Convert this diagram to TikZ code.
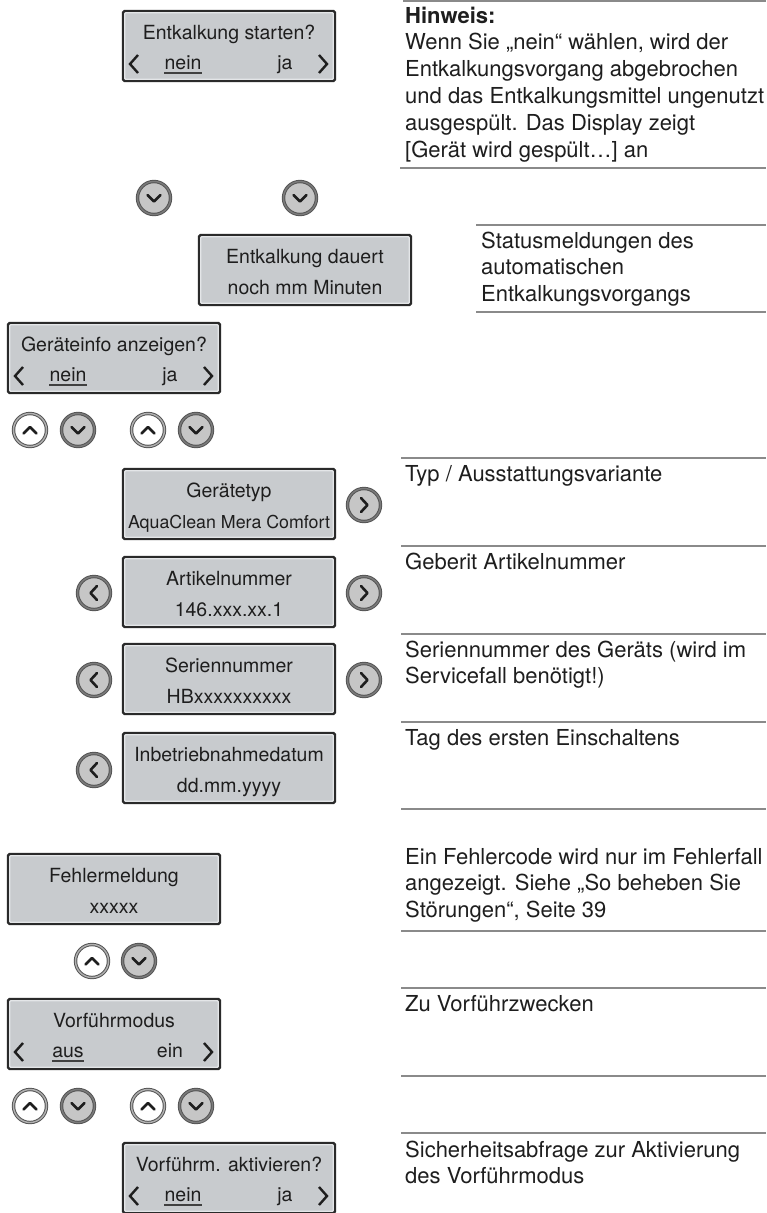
\documentclass[tikz,border=0pt]{standalone}
\usepackage{fontspec}
\setmainfont{TeX Gyre Heros}
\definecolor{dispfill}{HTML}{C8CBCE}
\definecolor{dispborder}{HTML}{2A2A2A}
\definecolor{dispinnercol}{HTML}{E4E6E8}
\definecolor{txtcol}{HTML}{1E1E1E}
\definecolor{rulecol}{HTML}{8A8A8A}
\definecolor{btngray}{HTML}{C6C6C6}
\definecolor{btnring}{HTML}{555555}
\definecolor{btnringin}{HTML}{B0B0B0}
\newcommand\disptext{\fontsize{19.5}{22}\selectfont}
\newcommand\smalldisptext{\fontsize{17.8}{22}\selectfont}
\newcommand\notefont{\fontsize{22}{26.8}\selectfont}
\tikzset{
  dispbox/.style={draw=dispborder, line width=2.4pt, fill=dispfill, rounded corners=1.5pt,
    minimum width=212pt, minimum height=70pt, inner sep=0pt},
  dispinner/.style={draw=dispinnercol, line width=1.2pt, rounded corners=1pt},
  disptxt/.style={font=\disptext, inner sep=0pt, anchor=base, text=txtcol},
  notetxt/.style={font=\notefont, inner sep=0pt, anchor=base west, text=txtcol},
  seprule/.style={draw=rulecol, line width=1.1pt},
  btndn/.style={circle, minimum size=33pt, inner sep=0pt, fill=btngray, draw=btnring,
    line width=1pt, double=btnringin!70!black, double distance=1.4pt},
  btnup/.style={circle, minimum size=33pt, inner sep=0pt, fill=white, draw=btnring,
    line width=1pt, double=btnringin, double distance=1.4pt},
  chev/.style={draw=txtcol, line width=2.6pt, line cap=round, line join=round},
  selarrow/.style={draw=txtcol, line width=2.4pt, line join=miter},
  uline/.style={draw=txtcol!85, line width=2pt},
}
\newcommand\DispBox[3]{%
  \node[dispbox] (#1) at (#2,#3) {};
  \draw[dispinner] ([shift={(3,3)}]#1.north west) rectangle ([shift={(-3,-3)}]#1.south east);
}
\newcommand\SelBox[6]{% name, left, top, title, opt1, opt2
  \DispBox{#1}{#2+107}{#3+36}
  \node[disptxt] (#1t) at (#2+107,#3+29) {#4};
  \node[disptxt] (#1a) at (#2+61,#3+59) {#5};
  \node[disptxt] (#1b) at (#2+163,#3+59) {#6};
  \draw[uline] ([shift={(0,3.5)}]#1a.base west) -- ([shift={(0,3.5)}]#1a.base east);
  \draw[selarrow] (#2+16,#3+45) -- (#2+8,#3+54) -- (#2+16,#3+63);
  \draw[selarrow] (#2+197,#3+45) -- (#2+205,#3+54) -- (#2+197,#3+63);
}
\newcommand\InfoBox[5]{% name, left, top, line1, line2
  \DispBox{#1}{#2+107}{#3+36}
  \node[disptxt] (#1t) at (#2+107,#3+29) {#4};
  \node[disptxt] (#1v) at (#2+107,#3+60) {#5};
}
\newcommand\BtnDn[3]{%
  \node[btndn] (#1) at (#2,#3) {};
  \draw[chev] ([shift={(-6.5,-3)}]#1.center) -- ([shift={(0,3.5)}]#1.center) -- ([shift={(6.5,-3)}]#1.center);
}
\newcommand\BtnUp[3]{%
  \node[btnup] (#1) at (#2,#3) {};
  \draw[chev] ([shift={(-6.5,3.5)}]#1.center) -- ([shift={(0,-3)}]#1.center) -- ([shift={(6.5,3.5)}]#1.center);
}
\newcommand\BtnLt[3]{%
  \node[btndn] (#1) at (#2,#3) {};
  \draw[chev] ([shift={(3,-7)}]#1.center) -- ([shift={(-3.5,0)}]#1.center) -- ([shift={(3,7)}]#1.center);
}
\newcommand\BtnRt[3]{%
  \node[btndn] (#1) at (#2,#3) {};
  \draw[chev] ([shift={(-3,-7)}]#1.center) -- ([shift={(3.5,0)}]#1.center) -- ([shift={(-3,7)}]#1.center);
}
\begin{document}
\begin{tikzpicture}[x=1pt,y=-1pt]
\useasboundingbox[fill=white] (0,0) rectangle (766,1213);

% ---- separator rules (right column)
\draw[seprule] (403,1) -- (766,1);
\draw[seprule] (400,168) -- (766,168);
\draw[seprule] (476,225) -- (766,225);
\draw[seprule] (476,312) -- (766,312);
\draw[seprule] (401,458) -- (766,458);
\draw[seprule] (401,546) -- (766,546);
\draw[seprule] (401,634) -- (766,634);
\draw[seprule] (401,722) -- (766,722);
\draw[seprule] (401,809) -- (766,809);
\draw[seprule] (401,931) -- (766,931);
\draw[seprule] (401,988) -- (766,988);
\draw[seprule] (401,1076) -- (766,1076);
\draw[seprule] (401,1133) -- (766,1133);

% ---- notes
\node[notetxt] (n1) at (405,23) {\parbox[t]{380pt}{\raggedright\textbf{Hinweis:}\\
  Wenn Sie „nein“ wählen, wird der\\
  Entkalkungsvorgang abgebrochen\\
  und das Entkalkungsmittel ungenutzt\\
  ausgespült. Das Display zeigt\\
  {[}Gerät wird gespült…] an}};
\node[notetxt] (n2) at (481,248) {\parbox[t]{300pt}{\raggedright Statusmeldungen des\\
  automatischen\\
  Entkalkungsvorgangs}};
\node[notetxt] (n3) at (405,481) {Typ / Ausstattungsvariante};
\node[notetxt] (n4) at (405,569) {Geberit Artikelnummer};
\node[notetxt] (n5) at (405,657) {\parbox[t]{380pt}{\raggedright Seriennummer des Geräts (wird im\\
  Servicefall benötigt!)}};
\node[notetxt] (n6) at (405,745) {Tag des ersten Einschaltens};
\node[notetxt] (n7) at (405,864) {\parbox[t]{380pt}{\raggedright Ein Fehlercode wird nur im Fehlerfall\\
  angezeigt. Siehe „So beheben Sie\\
  Störungen“, Seite 39}};
\node[notetxt] (n8) at (405,1011) {Zu Vorführzwecken};
\node[notetxt] (n9) at (405,1157) {\parbox[t]{380pt}{\raggedright Sicherheitsabfrage zur Aktivierung\\
  des Vorführmodus}};

% ---- displays
\SelBox{s1}{122}{10}{Entkalkung starten?}{nein}{ja}
\BtnDn{b1}{154}{198}
\BtnDn{b2}{300}{198}
\InfoBox{d2}{198}{234}{Entkalkung dauert}{noch mm Minuten}
\SelBox{s2}{7}{322}{Geräteinfo anzeigen?}{nein}{ja}
\BtnUp{b3}{30}{430}
\BtnDn{b4}{78}{430}
\BtnUp{b5}{148}{430}
\BtnDn{b6}{196}{430}
\InfoBox{d3}{122}{468}{Gerätetyp}{{\smalldisptext AquaClean Mera Comfort}}
\BtnRt{b7}{364}{505}
\InfoBox{d4}{122}{556}{Artikelnummer}{146.xxx.xx.1}
\BtnLt{b8}{94}{593}
\BtnRt{b9}{364}{593}
\InfoBox{d5}{122}{643}{Seriennummer}{HBxxxxxxxxxx}
\BtnLt{b10}{94}{680}
\BtnRt{b11}{364}{680}
\InfoBox{d6}{122}{732}{Inbetriebnahmedatum}{dd.mm.yyyy}
\BtnLt{b12}{94}{770}
\InfoBox{d7}{7}{853}{Fehlermeldung}{xxxxx}
\BtnUp{b13}{92}{961}
\BtnDn{b14}{139}{961}
\SelBox{s3}{7}{998}{Vorführmodus}{aus}{ein}
\BtnUp{b15}{30}{1106}
\BtnDn{b16}{78}{1106}
\BtnUp{b17}{148}{1106}
\BtnDn{b18}{196}{1106}
\SelBox{s4}{122}{1142}{Vorführm. aktivieren?}{nein}{ja}
\end{tikzpicture}
\end{document}
